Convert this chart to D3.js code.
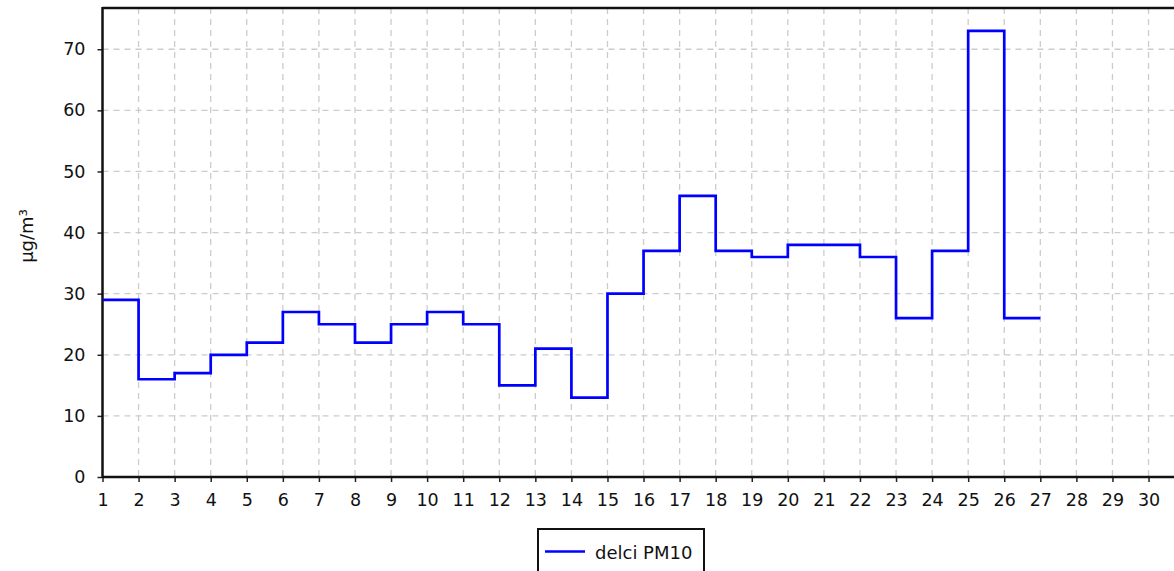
<!DOCTYPE html>
<html><head><meta charset="utf-8">
<script src="https://cdn.jsdelivr.net/npm/d3@7"></script>
<style>body{margin:0;background:#fff;overflow:hidden}svg{display:block}text{font-family:"DejaVu Sans",Verdana,sans-serif}</style>
</head><body>
<svg id="c" width="1174" height="571"></svg>
<script>
const days = [1,2,3,4,5,6,7,8,9,10,11,12,13,14,15,16,17,18,19,20,21,22,23,24,25,26];
const values = [29,16,17,20,22,27,25,22,25,27,25,15,21,13,30,37,46,37,36,38,38,36,26,37,73,26];
const xTicks = d3.range(1,31);
const yTicks = [0,10,20,30,40,50,60,70];
const seriesName = "delci PM10";
const yLabel = "μg/m³";

const svg = d3.select("#c");
const m = {left:102.5, top:8, bottom:477};
const x = d3.scaleLinear().domain([1,31]).range([m.left, m.left + 30*36.07]);
const y = d3.scaleLinear().domain([0,76.75]).range([m.bottom, m.top]);
const fs = 17.5;

const g = svg.append("g");
// grid
g.selectAll(".vg").data(xTicks.slice(1)).enter().append("line")
  .attr("x1",d=>x(d)).attr("x2",d=>x(d)).attr("y1",m.top).attr("y2",m.bottom)
  .attr("stroke","#cccccc").attr("stroke-width",1.3).attr("stroke-dasharray","6,5");
g.selectAll(".hg").data(yTicks.slice(1)).enter().append("line")
  .attr("x1",m.left).attr("x2",1174).attr("y1",d=>y(d)).attr("y2",d=>y(d))
  .attr("stroke","#cccccc").attr("stroke-width",1.3).attr("stroke-dasharray","6,5");

// axes
const xa = g.append("g").attr("transform",`translate(0,${m.bottom})`)
  .call(d3.axisBottom(x).tickValues(xTicks).tickSize(5).tickSizeOuter(0).tickPadding(12));
const ya = g.append("g").attr("transform",`translate(${m.left},0)`)
  .call(d3.axisLeft(y).tickValues(yTicks).tickSize(5).tickSizeOuter(0).tickPadding(12));
[xa,ya].forEach(a=>{
  a.select(".domain").remove();
  a.selectAll("line").attr("stroke","#222").attr("stroke-width",1.5);
  a.selectAll("text").attr("font-size",fs).attr("fill","#111");
});
// frame lines
g.append("line").attr("x1",m.left).attr("x2",1174).attr("y1",m.bottom).attr("y2",m.bottom).attr("stroke","#111").attr("stroke-width",2.5);
g.append("line").attr("x1",m.left).attr("x2",1174).attr("y1",m.top).attr("y2",m.top).attr("stroke","#111").attr("stroke-width",2.5);
g.append("line").attr("x1",m.left).attr("x2",m.left).attr("y1",m.top-1).attr("y2",m.bottom+1).attr("stroke","#111").attr("stroke-width",2.5);

// series
const pts = days.map((d,i)=>[d,values[i]]);
pts.push([days[days.length-1]+1, values[values.length-1]]);
g.append("path").datum(pts)
  .attr("d", d3.line().x(d=>x(d[0])).y(d=>y(d[1])).curve(d3.curveStepAfter))
  .attr("fill","none").attr("stroke","#0000ff").attr("stroke-width",2.7);

// y label
svg.append("text").attr("transform","translate(33,236) rotate(-90)")
  .attr("text-anchor","middle").attr("font-size",18).attr("fill","#111").text(yLabel);

// legend
const lg = svg.append("g");
lg.append("rect").attr("x",538).attr("y",529).attr("width",166).attr("height",60)
  .attr("fill","#fff").attr("stroke","#111").attr("stroke-width",2);
lg.append("line").attr("x1",545).attr("x2",585).attr("y1",551.5).attr("y2",551.5)
  .attr("stroke","#0000ff").attr("stroke-width",2.7);
lg.append("text").attr("x",595).attr("y",559).attr("font-size",18).attr("fill","#111").text(seriesName);
</script>
</body></html>
